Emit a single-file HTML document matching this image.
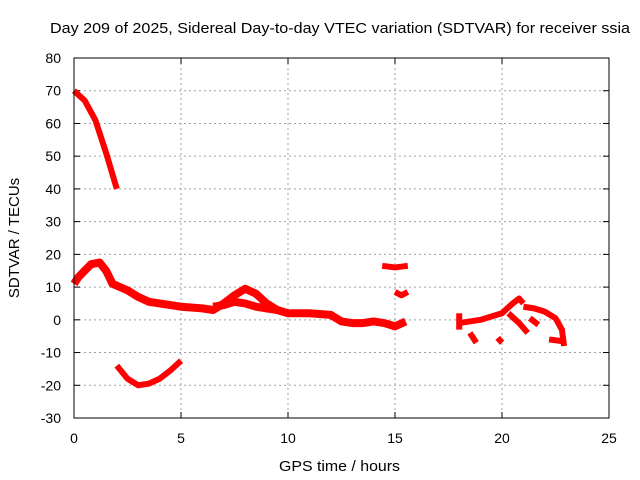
<!DOCTYPE html>
<html><head><meta charset="utf-8"><style>
body{margin:0;background:#fff;}
svg{display:block;font-family:"Liberation Sans",sans-serif;font-size:14px;}
</style></head><body>
<svg id="chart" width="640" height="480">
<rect width="640" height="480" fill="#fff"/>
<text x="50" y="33" textLength="580" lengthAdjust="spacingAndGlyphs" style="font-size:15px">Day 209 of 2025, Sidereal Day-to-day VTEC variation (SDTVAR) for receiver ssia</text>
<text x="279" y="471" textLength="121" lengthAdjust="spacingAndGlyphs" style="font-size:15px">GPS time / hours</text>
<text transform="translate(19,238) rotate(-90)" text-anchor="middle" style="font-size:15px">SDTVAR / TECUs</text>
<g id="grid"></g><g id="ticks"></g><g id="series"></g>
<rect x="74" y="58" width="535" height="360" fill="none" stroke="#000"/>
</svg>
<script>
const xTicks=[0,5,10,15,20,25];
const yTicks=[-30,-20,-10,0,10,20,30,40,50,60,70,80];
const segEarly=[[0,70],[0.5,67],[1,61],[1.5,51],[2,40]];
const segMain=[[0,11],[0.2,13],[0.5,15],[0.8,17],[1.2,17.5],[1.5,15],[1.8,11],[2.5,9],[3,7],[3.5,5.5],[4,5],[5,4],[6,3.5],[6.5,3],[7,5],[7.5,7.5],[8,9.5],[8.5,8],[9,5],[9.5,3],[10,2],[11,2],[12,1.5],[12.5,-0.5],[13,-1],[13.5,-1],[14,-0.5],[14.5,-1],[15,-2],[15.5,-0.5]];
const segMainLow=[[6.5,4],[7,4.5],[7.5,5.5],[8,5],[8.5,4],[9,3.5],[9.5,3]];
const segDip=[[2,-14],[2.5,-18],[3,-20],[3.5,-19.5],[4,-18],[4.5,-15.5],[5,-12.5]];
const segHigh=[[14.4,16.5],[15,16],[15.6,16.5]];
const segMid=[[15,8.5],[15.3,7.5],[15.6,8.5]];
const segLate1=[[18,-1],[18.5,-0.5],[19,0],[19.5,1],[20,2],[20.5,5],[20.8,6.5],[21,5]];
const segLate2=[[18.5,-4],[18.8,-7]];
const segLate3=[[19.8,-5.5],[20,-7]];
const segLate4=[[20.3,2],[20.8,-1],[21.2,-4]];
const segLate5=[[21,4],[21.5,3.5],[22,2.5],[22.5,0.5],[22.8,-3],[22.9,-8]];
const segLate6=[[22.2,-6],[22.8,-6.5]];
const segLate7=[[21.3,0.5],[21.7,-1.5]];
const segLate8=[[18,2],[18,-3]];
const allSeries=[segEarly,segMain,segMainLow,segDip,segHigh,segMid,segLate1,segLate2,segLate3,segLate4,segLate5,segLate6,segLate7,segLate8];
const X=h=>74+h*535/25;
const Y=v=>58+(80-v)*360/110;
const NS="http://www.w3.org/2000/svg";
const g=document.getElementById('grid'),t=document.getElementById('ticks'),s=document.getElementById('series');
function mk(tag,at,p){const e=document.createElementNS(NS,tag);for(const k in at)e.setAttribute(k,at[k]);p.appendChild(e);return e;}
xTicks.forEach(v=>{
 if(v>0&&v<25){const l=mk('line',{x1:X(v),x2:X(v),y1:58,y2:418,stroke:'#a0a0a0','stroke-dasharray':'2,3'},g);
 
 }
 mk('line',{x1:X(v),x2:X(v),y1:418,y2:412,stroke:'#000'},t);
 mk('line',{x1:X(v),x2:X(v),y1:58,y2:64,stroke:'#000'},t);
 const tx=mk('text',{x:X(v),y:443,'text-anchor':'middle'},t);tx.textContent=v;
 
 
});
yTicks.forEach(v=>{
 if(v>-30&&v<80){const l=mk('line',{x1:74,x2:609,y1:Y(v),y2:Y(v),stroke:'#a0a0a0','stroke-dasharray':'2,3'},g);
 
 }
 mk('line',{x1:74,x2:80,y1:Y(v),y2:Y(v),stroke:'#000'},t);
 mk('line',{x1:609,x2:603,y1:Y(v),y2:Y(v),stroke:'#000'},t);
 const tx=mk('text',{x:61,y:Y(v)+5,'text-anchor':'end'},t);tx.textContent=v;
 
 
});
allSeries.forEach((seg,i)=>{
 const p=mk('polyline',{points:seg.map(d=>X(d[0])+','+Y(d[1])).join(' '),fill:'none',stroke:'#ff0000','stroke-width':(i===1||i===2)?8:6,'stroke-linejoin':'round'},s);
 
 
});
</script>
</body></html>
